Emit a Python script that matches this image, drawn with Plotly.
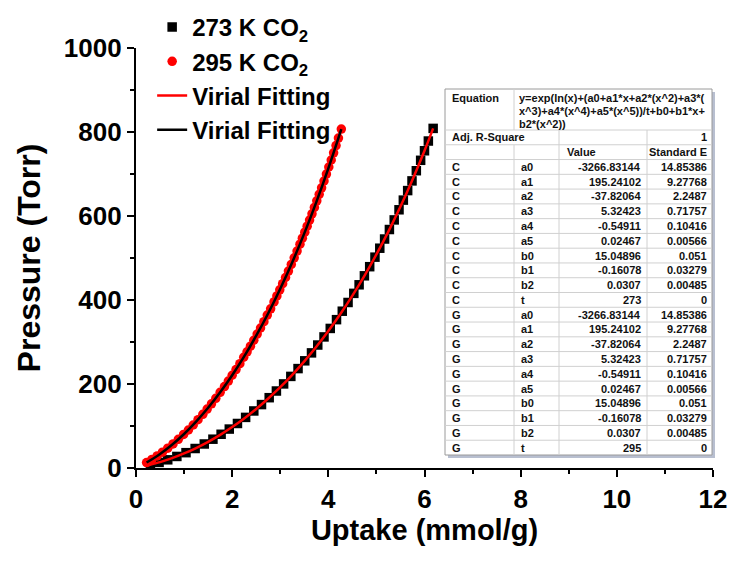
import plotly.graph_objects as go

# ---------------- data ----------------
x273 = [0.30, 0.48, 0.66, 0.85, 1.04, 1.23, 1.42, 1.60, 1.77, 1.94, 2.11, 2.28, 2.45, 2.61, 2.77,
        2.92, 3.07, 3.22, 3.37, 3.51, 3.65, 3.78, 3.91, 4.04, 4.17, 4.29, 4.41, 4.53, 4.64, 4.75,
        4.86, 4.97, 5.07, 5.17, 5.27, 5.37, 5.47, 5.56, 5.65, 5.74, 5.83, 5.92, 6.00, 6.08, 6.18]
p273 = [7.7, 13.3, 19.5, 27.5, 36.5, 46.4, 57.2, 68.6, 80.3, 92.7, 106.0, 120.5, 135.8, 151.0, 167.4,
        183.3, 200.2, 218.1, 236.7, 255.2, 274.1, 292.8, 312.1, 332.3, 353.2, 373.3, 394.1, 415.8, 436.2, 457.6,
        479.3, 502.0, 523.3, 545.2, 567.8, 590.7, 614.8, 637.8, 660.5, 683.6, 707.8, 732.6, 755.3, 778.5, 808.6]

x295 = [0.22, 0.33, 0.44, 0.55, 0.66, 0.77, 0.88, 0.99, 1.09, 1.19, 1.29, 1.39, 1.48, 1.57, 1.66,
        1.75, 1.84, 1.92, 2.00, 2.08, 2.16, 2.24, 2.31, 2.38, 2.45, 2.52, 2.59, 2.66, 2.73, 2.80,
        2.87, 2.93, 2.99, 3.05, 3.11, 3.17, 3.23, 3.29, 3.35, 3.41, 3.46, 3.51, 3.56, 3.61, 3.66,
        3.71, 3.76, 3.81, 3.86, 3.91, 3.96, 4.01, 4.06, 4.11, 4.16, 4.21, 4.27]
p295 = [13.0, 20.5, 28.7, 37.6, 47.1, 57.4, 68.3, 79.9, 90.5, 102.4, 115.0, 127.7, 140.3, 152.7, 165.9,
        180.1, 193.8, 206.9, 220.8, 234.3, 248.5, 263.7, 276.7, 290.1, 304.2, 318.9, 333.3, 348.3, 364.0, 379.0,
        395.4, 409.6, 424.3, 438.8, 453.6, 468.9, 484.7, 500.5, 516.5, 532.9, 547.1, 561.5, 575.7, 590.2, 605.1,
        620.4, 636.1, 651.5, 667.2, 683.3, 699.8, 716.7, 733.3, 750.4, 767.8, 785.6, 806.9]

fit273_x = [0.27, 0.5, 0.75, 1.0, 1.25, 1.5, 1.75, 2.0, 2.25, 2.5, 2.75, 3.0, 3.25, 3.5, 3.75,
            4.0, 4.25, 4.5, 4.75, 5.0, 5.25, 5.5, 5.75, 6.0, 6.18]
fit273_p = [6.9, 14.0, 23.5, 34.7, 47.6, 62.4, 79.0, 97.5, 118.0, 140.6, 165.4, 192.4, 221.9, 253.9, 288.5,
            326.1, 366.6, 410.4, 457.6, 508.4, 563.3, 622.4, 686.3, 755.3, 808.6]

fit295_x = [0.22, 0.5, 0.75, 1.0, 1.25, 1.5, 1.75, 2.0, 2.25, 2.5, 2.75, 3.0, 3.25, 3.5, 3.75, 4.0, 4.27]
fit295_p = [13.0, 33.5, 55.4, 81.0, 110.3, 143.3, 180.1, 220.8, 265.6, 315.0, 368.4, 426.8, 490.0,
            558.7, 633.1, 713.4, 806.9]

legend_names = ["273 K CO<sub>2</sub>", "295 K CO<sub>2</sub>", "Virial Fitting", "Virial Fitting"]

x_ticks = [0, 2, 4, 6, 8, 10, 12]
y_ticks = [0, 200, 400, 600, 800, 1000]
x_title = "Uptake (mmol/g)"
y_title = "Pressure (Torr)"

# fit-parameter table (text)
eq_lines = ["y=exp(ln(x)+(a0+a1*x+a2*(x^2)+a3*(",
            "x^3)+a4*(x^4)+a5*(x^5))/t+b0+b1*x+",
            "b2*(x^2))"]
adj_r2 = "1"
param_names = ["a0", "a1", "a2", "a3", "a4", "a5", "b0", "b1", "b2", "t"]
c_values = ["-3266.83144", "195.24102", "-37.82064", "5.32423", "-0.54911", "0.02467",
            "15.04896", "-0.16078", "0.0307", "273"]
c_errors = ["14.85386", "9.27768", "2.2487", "0.71757", "0.10416", "0.00566",
            "0.051", "0.03279", "0.00485", "0"]
g_values = ["-3266.83144", "195.24102", "-37.82064", "5.32423", "-0.54911", "0.02467",
            "15.04896", "-0.16078", "0.0307", "295"]
g_errors = ["14.85386", "9.27768", "2.2487", "0.71757", "0.10416", "0.00566",
            "0.051", "0.03279", "0.00485", "0"]

# ---------------- figure ----------------
W, H = 732, 562
ML, MR, MT, MB = 136, 19, 48, 94
PW, PH = W - ML - MR, H - MT - MB

def px(x):
    return (x - ML) / PW

def py(y):
    return (H - MB - y) / PH

FONT = "Arial, Liberation Sans, sans-serif"

fig = go.Figure()
fig.add_trace(go.Scatter(x=x273, y=p273, mode="markers", name=legend_names[0],
                         marker=dict(symbol="square", size=9.5, color="black")))
fig.add_trace(go.Scatter(x=x295, y=p295, mode="markers", name=legend_names[1],
                         marker=dict(symbol="circle", size=9.5, color="#ff0000")))
fig.add_trace(go.Scatter(x=fit273_x, y=fit273_p, mode="lines", name=legend_names[2],
                         line=dict(color="#ff0000", width=2.5, shape="spline")))
fig.add_trace(go.Scatter(x=fit295_x, y=fit295_p, mode="lines", name=legend_names[3],
                         line=dict(color="black", width=2.5, shape="spline")))

# table geometry (pixels)
TX0, TX1, TY0, TY1 = 445, 712, 89, 455
C1, C2, C3 = 514, 559, 647
EQ_BOTTOM = 130
NROWS = 22
RH = (TY1 - EQ_BOTTOM) / NROWS

shapes = []
shapes.append(dict(type="rect", xref="paper", yref="paper",
                   x0=px(TX0 + 3), x1=px(TX1 + 3), y0=py(TY1 + 3), y1=py(TY0 + 3),
                   line=dict(width=0), fillcolor="#b8bfd0", layer="above"))
shapes.append(dict(type="rect", xref="paper", yref="paper",
                   x0=px(TX0), x1=px(TX1), y0=py(TY1), y1=py(TY0),
                   line=dict(width=1, color="#9a9a9a"), fillcolor="white", layer="above"))
grid = dict(width=1, color="#d0d0d0")
for i in range(NROWS):
    yy = EQ_BOTTOM + i * RH
    shapes.append(dict(type="line", xref="paper", yref="paper",
                       x0=px(TX0), x1=px(TX1), y0=py(yy), y1=py(yy), line=grid, layer="above"))
shapes.append(dict(type="line", xref="paper", yref="paper",
                   x0=px(C1), x1=px(C1), y0=py(TY0), y1=py(EQ_BOTTOM), line=grid, layer="above"))
shapes.append(dict(type="line", xref="paper", yref="paper",
                   x0=px(C1), x1=px(C1), y0=py(EQ_BOTTOM + RH), y1=py(TY1), line=grid, layer="above"))
for cx in (C2, C3):
    shapes.append(dict(type="line", xref="paper", yref="paper",
                       x0=px(cx), x1=px(cx), y0=py(EQ_BOTTOM), y1=py(TY1), line=grid, layer="above"))

anns = []
TF = dict(family=FONT, size=11, color="#111111")

def cell(text, x, y, anchor="left"):
    anns.append(dict(text="<b>" + text + "</b>", xref="paper", yref="paper",
                     x=px(x), y=py(y), xanchor=anchor, yanchor="middle",
                     showarrow=False, font=TF))

cell("Equation", TX0 + 5, 97.5)
for k, line in enumerate(eq_lines):
    cell(line, C1 + 3, 97.5 + 13 * k)

def rowc(i):
    return EQ_BOTTOM + RH * (i + 0.5)

cell("Adj. R-Square", TX0 + 5, rowc(0))
cell(adj_r2, TX1 - 3, rowc(0), "right")
cell("Value", C2 + 6, rowc(1))
cell("Standard E", TX1 - 3, rowc(1), "right")
for j, nm in enumerate(param_names):
    r = rowc(2 + j)
    cell("C", TX0 + 5, r)
    cell(nm, C1 + 5, r)
    cell(c_values[j], C3 - 4, r, "right")
    cell(c_errors[j], TX1 - 3, r, "right")
for j, nm in enumerate(param_names):
    r = rowc(12 + j)
    cell("G", TX0 + 5, r)
    cell(nm, C1 + 5, r)
    cell(g_values[j], C3 - 4, r, "right")
    cell(g_errors[j], TX1 - 3, r, "right")

axis_common = dict(showline=True, linewidth=2.2, linecolor="black", showgrid=False, zeroline=False,
                   ticks="outside", ticklen=7, tickwidth=2.2, tickcolor="black",
                   tickfont=dict(family=FONT, size=26, color="black", weight="bold"))

fig.update_layout(
    width=W, height=H,
    margin=dict(l=ML, r=MR, t=MT, b=MB, autoexpand=False),
    paper_bgcolor="white", plot_bgcolor="white",
    showlegend=True,
    legend=dict(x=0.028, y=py(5), xanchor="left", yanchor="top",
                bgcolor="rgba(0,0,0,0)", borderwidth=0,
                font=dict(family=FONT, size=24, color="black", weight="bold"),
                tracegroupgap=0),
    xaxis=dict(range=[0, 12], tickvals=x_ticks, ticktext=[str(v) for v in x_ticks],
               minor=dict(dtick=1, ticks="outside", ticklen=4, tickwidth=2.2, tickcolor="black"),
               title=dict(text=x_title, standoff=0,
                          font=dict(family=FONT, size=29, color="black", weight="bold")),
               automargin=False, **axis_common),
    yaxis=dict(range=[0, 1000], tickvals=y_ticks, ticktext=[str(v) for v in y_ticks],
               minor=dict(dtick=100, ticks="outside", ticklen=4, tickwidth=2.2, tickcolor="black"),
               title=dict(text=y_title, standoff=14,
                          font=dict(family=FONT, size=32, color="black", weight="bold")),
               automargin=False, **axis_common),
    shapes=shapes,
    annotations=anns,
)

fig.write_html("out.html")
